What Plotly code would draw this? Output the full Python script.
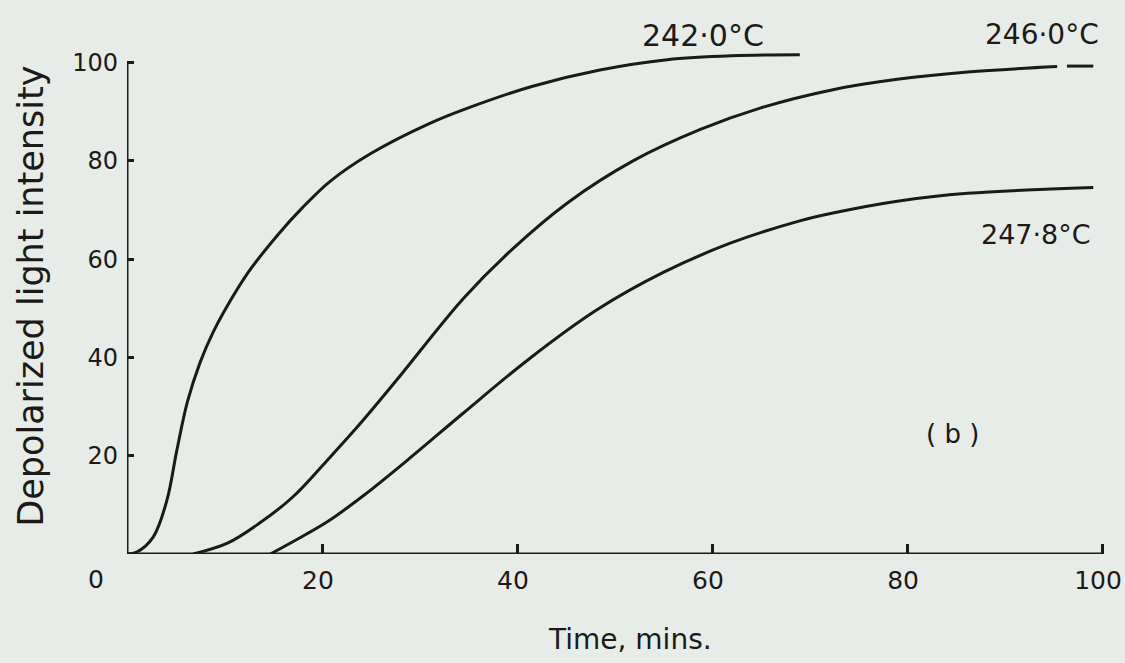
import plotly.graph_objects as go

# ---- data ----
t_242 = [0, 1, 2.7, 4.1, 5.1, 6.2, 7.5, 8.8, 10, 12.5, 15.7, 18, 20.8, 25, 31, 35, 41.6, 48.5, 55.4, 62, 69]
y_242 = [0, 0.4, 3.5, 11, 21, 31, 39, 45, 49.5, 57.5, 65.5, 70.5, 75.8, 81.5, 87.6, 90.8, 95.2, 98.5, 100.6, 101.4, 101.6]

t_246 = [6.8, 10.3, 13.6, 17, 20.5, 23.9, 27.7, 34.5, 39.5, 45.2, 51.9, 58.8, 65, 72.4, 79, 86.2, 95.4]
y_246 = [0, 2.2, 6.3, 11.6, 19, 26.5, 35.5, 52, 62, 71.5, 80, 86.4, 90.8, 94.5, 96.6, 98.1, 99.2]
t_246_dash = [96.4, 99.1]
y_246_dash = [99.3, 99.3]

t_2478 = [14.7, 17, 20.5, 24.2, 29, 34.5, 41.3, 48.2, 55, 61.8, 69, 72.4, 79, 86.2, 99.1]
y_2478 = [0, 2.5, 6.5, 11.8, 19.5, 28.7, 39.8, 49.7, 57.3, 63.2, 67.8, 69.4, 71.8, 73.4, 74.6]

x_ticks = [20, 40, 60, 80, 100]
x_ticktext = ["20", "40", "60", "80", "100"]
y_ticks = [20, 40, 60, 80, 100]
y_ticktext = ["20", "40", "60", "80", "100"]

series_labels = ["242·0°C", "246·0°C", "247·8°C"]

INK = "#1c1a18"
PAPER = "#e8ece9"
FONT = "DejaVu Sans"

fig = go.Figure()
line_style = dict(color=INK, width=3, shape="spline", smoothing=1.0)
fig.add_trace(go.Scatter(x=t_242, y=y_242, mode="lines", line=line_style, name=series_labels[0]))
fig.add_trace(go.Scatter(x=t_246, y=y_246, mode="lines", line=line_style, name=series_labels[1]))
fig.add_trace(go.Scatter(x=t_246_dash, y=y_246_dash, mode="lines", line=dict(color=INK, width=3), name=series_labels[1]))
fig.add_trace(go.Scatter(x=t_2478, y=y_2478, mode="lines", line=line_style, name=series_labels[2]))

# axis lines drawn in data coordinates
fig.add_shape(type="line", xref="x", yref="y", x0=0, x1=0, y0=0, y1=100, line=dict(color=INK, width=3))
fig.add_shape(type="line", xref="x", yref="y", x0=0, x1=100, y0=0, y1=0, line=dict(color=INK, width=3))

fig.update_xaxes(range=[0, 100.2], showgrid=False, zeroline=False, showline=False, automargin=False,
                 ticks="inside", ticklen=10, tickwidth=2.5, tickcolor=INK,
                 tickvals=x_ticks, ticktext=x_ticktext, ticklabelstandoff=9,
                 ticklabelshift=-4, ticklabeloverflow="allow",
                 tickfont=dict(family=FONT, size=25, color=INK))
fig.update_yaxes(range=[0, 104], showgrid=False, zeroline=False, showline=False, automargin=False,
                 ticks="inside", ticklen=7, tickwidth=2.5, tickcolor=INK,
                 tickvals=y_ticks, ticktext=y_ticktext, ticklabelstandoff=8,
                 ticklabeloverflow="allow",
                 tickfont=dict(family=FONT, size=24, color=INK))

ann_font = dict(family=FONT, color=INK)
# labels inside the plotting area (data coordinates)
for a in [
    dict(x=93.2, y=65.0, text=series_labels[2], font=dict(size=27, **ann_font)),
    dict(x=84.7, y=24.4, text="( b )", font=dict(size=26, **ann_font)),
    dict(x=0, y=0, xshift=-31, yshift=-25, text="0", font=dict(size=25, **ann_font)),
]:
    fig.add_annotation(xref="x", yref="y", showarrow=False, xanchor="center", yanchor="middle", **a)

# labels outside the plotting area (paper coordinates)
for a in [
    dict(x=0.590, y=1.0137, text=series_labels[0], font=dict(size=30, **ann_font)),
    dict(x=0.937, y=1.0157, text=series_labels[1], font=dict(size=28, **ann_font)),
    dict(x=0.5147, y=-0.168, text="Time, mins.", font=dict(size=28, **ann_font)),
    dict(x=-0.0985, y=0.505, text="Depolarized light intensity", textangle=-90, font=dict(size=35, **ann_font)),
]:
    fig.add_annotation(xref="paper", yref="paper", showarrow=False, xanchor="center", yanchor="middle", **a)

fig.update_layout(
    width=1125, height=663,
    margin=dict(l=127, r=21, t=43, b=109),
    paper_bgcolor=PAPER, plot_bgcolor=PAPER,
    showlegend=False,
    font=dict(family=FONT, color=INK),
)

fig.write_html("out.html")
